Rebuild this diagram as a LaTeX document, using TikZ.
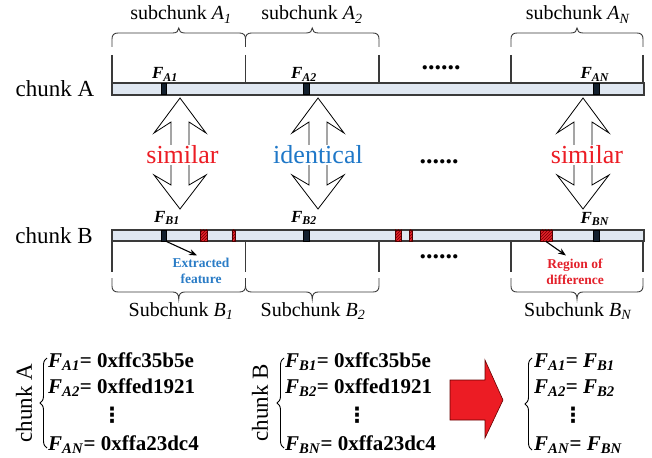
\documentclass[tikz,border=0pt]{standalone}
\usepackage{fontspec}
\setmainfont{Liberation Serif}
\newfontfamily\symfont{DejaVu Sans}
\usetikzlibrary{arrows.meta,patterns,decorations.pathreplacing}
\definecolor{barfill}{HTML}{DFE7F1}
\definecolor{barline}{HTML}{3A3A3A}
\definecolor{featc}{HTML}{13202E}
\definecolor{difred}{HTML}{E3202A}
\definecolor{simred}{HTML}{EC1C24}
\definecolor{idblue}{HTML}{1F78C8}
\definecolor{exblue}{HTML}{2A7CC6}
\newcommand\Fsub[1]{\textbf{\textit{F}\textsubscript{\textit{#1}}}}
\newcommand\TopBrace[2]{%
  \pgfmathsetmacro\BrMid{(#1+#2)/2}%
  \draw[brc] (#1,47) -- (#1,39) .. controls (#1,35) and (#1+2,33) .. (#1+6,33)
    -- (\BrMid-6,33) .. controls (\BrMid-2,33) and (\BrMid,31) .. (\BrMid,28)
    .. controls (\BrMid,31) and (\BrMid+2,33) .. (\BrMid+6,33)
    -- (#2-6,33) .. controls (#2-2,33) and (#2,35) .. (#2,39) -- (#2,47);}
\newcommand\BotBrace[2]{%
  \pgfmathsetmacro\BrMid{(#1+#2)/2}%
  \draw[brc] (#1,278) -- (#1,286) .. controls (#1,290) and (#1+2,292) .. (#1+6,292)
    -- (\BrMid-6,292) .. controls (\BrMid-2,292) and (\BrMid,294) .. (\BrMid,299)
    .. controls (\BrMid,294) and (\BrMid+2,292) .. (\BrMid+6,292)
    -- (#2-6,292) .. controls (#2-2,292) and (#2,290) .. (#2,286) -- (#2,278);}
\newcommand\DArrow[1]{%
  \draw[darr] (#1,98) -- (#1+26,133) -- (#1+9,122) -- (#1+9,185) -- (#1+26,175)
    -- (#1,209) -- (#1-26,175) -- (#1-9,185) -- (#1-9,122) -- (#1-26,133) -- cycle;}
\tikzset{
  bar/.style={draw=barline, fill=barfill, line width=1.1pt},
  feat/.style={draw=black, fill=featc, line width=0.5pt, minimum height=11.5pt, inner sep=0pt, minimum width=5.5pt},
  diffmark/.style={draw=black!70!red, line width=0.5pt, preaction={fill=difred}, pattern=north east lines, pattern color=black!55!red, minimum height=11.5pt, inner sep=0pt},
  divline/.style={draw=barline, line width=1.4pt},
  brc/.style={draw=barline, line width=0.9pt},
  darr/.style={draw=black, fill=white, line width=0.8pt},
  lab/.style={inner sep=0pt, font=\fontsize{20}{24}\selectfont},
  chk/.style={inner sep=0pt, font=\fontsize{23}{27}\selectfont},
  flab/.style={inner sep=0pt, font=\fontsize{17}{20}\selectfont},
  big/.style={inner sep=1pt, fill=white, font=\fontsize{26}{30}\selectfont},
  dots/.style={inner sep=0pt, font=\bfseries\fontsize{26}{30}\selectfont},
  note/.style={inner sep=0pt, align=center, font=\bfseries\fontsize{13.5}{16}\selectfont},
  fml/.style={inner sep=0pt, font=\bfseries\fontsize{21}{26}\selectfont},
  vd/.style={inner sep=0pt, font=\symfont\bfseries\fontsize{21}{24}\selectfont},
  ptr/.style={-{Stealth[length=8pt,width=6pt]}, line width=1.1pt, black},
  cbrace/.style={decorate, decoration={brace, amplitude=7pt}, draw=black, line width=0.9pt}
}
\begin{document}
\begin{tikzpicture}[x=1pt,y=-1pt]
\useasboundingbox (0,0) rectangle (652,457);
% ---- top labels and braces
\node[lab, anchor=base] (sa1) at (181,20) {subchunk \textit{A}\textsubscript{\textit{1}}};
\node[lab, anchor=base] (sa2) at (312,20) {subchunk \textit{A}\textsubscript{\textit{2}}};
\node[lab, anchor=base] (san) at (578,20) {subchunk \textit{A}\textsubscript{\textit{N}}};
\TopBrace{112}{245.5}
\TopBrace{245.5}{379}
\TopBrace{511}{643}
\foreach \x in {112,245.5,379,511,643} \draw[divline] (\x,55) -- (\x,83);
% ---- chunk A bar
\node[chk, anchor=base] (chA) at (55,97) {chunk A};
\draw[bar] (112,83) rectangle (644,95);
\node[feat] (fa1) at (163.5,89) {};
\node[feat] (fa2) at (306,89) {};
\node[feat] (fan) at (596,89) {};
\node[flab, anchor=base] (lfa1) at (165,79) {\Fsub{A1}};
\node[flab, anchor=base] (lfa2) at (304,79) {\Fsub{A2}};
\node[flab, anchor=base] (lfan) at (595,79) {\Fsub{AN}};
\node[dots, anchor=base] (dA) at (441,70) {......};
% ---- double arrows
\DArrow{180}
\DArrow{318}
\DArrow{583}
\node[big, anchor=base, text=simred] (s1) at (182.5,164) {similar};
\node[big, anchor=base, text=idblue] (id2) at (318,164) {identical};
\node[big, anchor=base, text=simred] (sn) at (587,164) {similar};
\node[dots, anchor=base] (dM) at (439,164) {......};
% ---- chunk B bar
\node[chk, anchor=base] (chB) at (54,243) {chunk B};
\draw[bar] (112,230) rectangle (644,241);
\node[feat] (fb1) at (163.5,235.5) {};
\node[feat] (fb2) at (306,235.5) {};
\node[feat] (fbn) at (596,235.5) {};
\node[diffmark, minimum width=7pt] (r1) at (203.7,235.5) {};
\node[diffmark, minimum width=3.5pt] (r2) at (233.5,235.5) {};
\node[diffmark, minimum width=6.5pt] (r3) at (398.3,235.5) {};
\node[diffmark, minimum width=3.3pt] (r4) at (410.7,235.5) {};
\node[diffmark, minimum width=12pt] (r5) at (546,235.5) {};
\node[flab, anchor=base] (lfb1) at (167,222) {\Fsub{B1}};
\node[flab, anchor=base] (lfb2) at (304,222) {\Fsub{B2}};
\node[flab, anchor=base] (lfbn) at (595,223) {\Fsub{BN}};
\foreach \x in {112,245.5,379,511,643} \draw[divline] (\x,241) -- (\x,272);
\node[dots, anchor=base] (dB) at (439,258) {......};
\node[note, anchor=north, text=exblue] (ex) at (201,258) {Extracted\\feature};
\node[note, anchor=north, text=difred] (rd) at (575,259) {Region of\\difference};
\coordinate (exend) at (197,255.5);
\coordinate (rdend) at (566,255.5);
\draw[ptr] (fb1.south east) -- (exend);
\draw[ptr] (r5.south) -- (rdend);
\BotBrace{112}{245.5}
\BotBrace{245.5}{379}
\BotBrace{511}{643}
\node[lab, anchor=base] (sb1) at (181,316) {Subchunk \textit{B}\textsubscript{\textit{1}}};
\node[lab, anchor=base] (sb2) at (313,316) {Subchunk \textit{B}\textsubscript{\textit{2}}};
\node[lab, anchor=base] (sbn) at (578,316) {Subchunk \textit{B}\textsubscript{\textit{N}}};
% ---- bottom formulas
\node[chk, rotate=90] (rA) at (24,403) {chunk A};
\draw[cbrace] (47,448) -- (47,358);
\node[fml, anchor=base west] (ea1) at (48,367) {\Fsub{A1}= 0xffc35b5e};
\node[fml, anchor=base west] (ea2) at (48,393) {\Fsub{A2}= 0xffed1921};
\node[vd] (eav) at (112,415.5) {⋮};
\node[fml, anchor=base west] (ean) at (48,450) {\Fsub{AN}= 0xffa23dc4};
\node[chk, rotate=90] (rB) at (260,403) {chunk B};
\draw[cbrace] (284,448) -- (284,358);
\node[fml, anchor=base west] (eb1) at (285,367) {\Fsub{B1}= 0xffc35b5e};
\node[fml, anchor=base west] (eb2) at (285,393) {\Fsub{B2}= 0xffed1921};
\node[vd] (ebv) at (357,415.5) {⋮};
\node[fml, anchor=base west] (ebn) at (285,450) {\Fsub{BN}= 0xffa23dc4};
\draw[draw=black!60!red, fill=simred, line width=0.6pt] (450,380) -- (485,380) -- (485,360) -- (503,400) -- (485,438) -- (485,420) -- (450,420) -- cycle;
\draw[cbrace] (532,450) -- (532,358);
\node[fml, anchor=base west] (r1e) at (534,367) {\Fsub{A1}= \Fsub{B1}};
\node[fml, anchor=base west] (r2e) at (534,393) {\Fsub{A2}= \Fsub{B2}};
\node[vd] (rv) at (573,415.5) {⋮};
\node[fml, anchor=base west] (rne) at (534,450) {\Fsub{AN}= \Fsub{BN}};
\end{tikzpicture}
\end{document}
